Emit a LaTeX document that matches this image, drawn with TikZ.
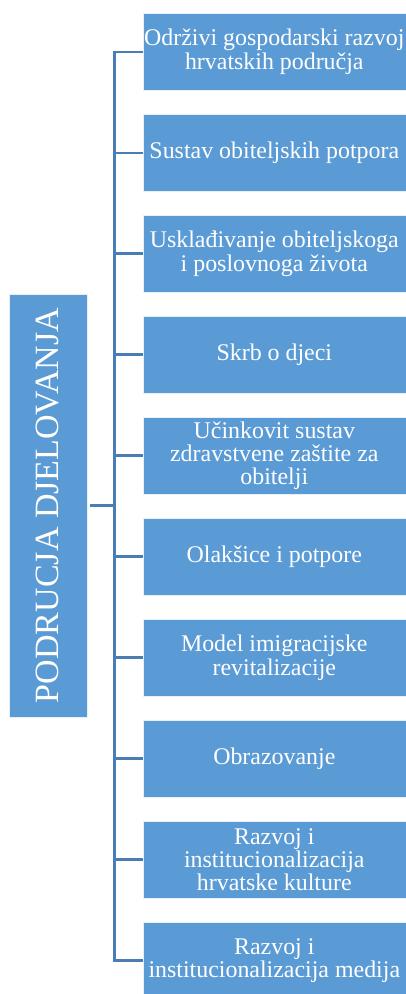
\documentclass[tikz,border=0pt]{standalone}
\usepackage{fontspec}
\setmainfont{Liberation Serif}
\definecolor{boxblue}{HTML}{5B9BD5}
\definecolor{lineblue}{HTML}{4A7DB4}
\begin{document}
\begin{tikzpicture}[x=1pt,y=-1pt,
  item/.style={draw=white!85!boxblue,line width=0.6pt,fill=boxblue,text=white,
    minimum width=263pt,minimum height=77.4pt,anchor=north west,align=center,
    inner sep=1pt,font=\fontsize{23.9}{23.4}\selectfont},
  mainbox/.style={draw=white!85!boxblue,line width=0.6pt,fill=boxblue,text=white,
    minimum width=423pt,minimum height=78pt,rotate=90,
    inner sep=0pt,font=\fontsize{34}{36}\selectfont},
  conn/.style={draw=lineblue,line width=2.6pt}]
\useasboundingbox (0,0) rectangle (406,994);
\node[mainbox] (main) at (48,505.5) {PODRUCJA DJELOVANJA};
\node[item] (b1) at (142.5,12.8) {Održivi gospodarski razvoj\\hrvatskih područja};
\node[item] (b2) at (142.5,113.8) {Sustav obiteljskih potpora};
\node[item] (b3) at (142.5,214.7) {Usklađivanje obiteljskoga\\i poslovnoga života};
\node[item] (b4) at (142.5,315.7) {Skrb o djeci};
\node[item] (b5) at (142.5,416.7) {Učinkovit sustav\\zdravstvene zaštite za\\obitelji};
\node[item] (b6) at (142.5,517.6) {Olakšice i potpore};
\node[item] (b7) at (142.5,618.6) {Model imigracijske\\revitalizacije};
\node[item] (b8) at (142.5,719.6) {Obrazovanje};
\node[item] (b9) at (142.5,820.6) {Razvoj i\\institucionalizacija\\hrvatske kulture};
\node[item] (b10) at (142.5,921.6) {Razvoj i\\institucionalizacija medija};
\coordinate (trunktop) at (114.5,0);
\draw[conn,line cap=rect] (b1.west -| trunktop) -- (b10.west -| trunktop);
\foreach \i in {1,...,10}{
  \draw[conn] (b\i.west -| trunktop) -- (b\i.west);
}
\draw[conn,line width=3pt] ([xshift=3pt]main.south) -- (main.south -| trunktop);
\end{tikzpicture}
\end{document}
